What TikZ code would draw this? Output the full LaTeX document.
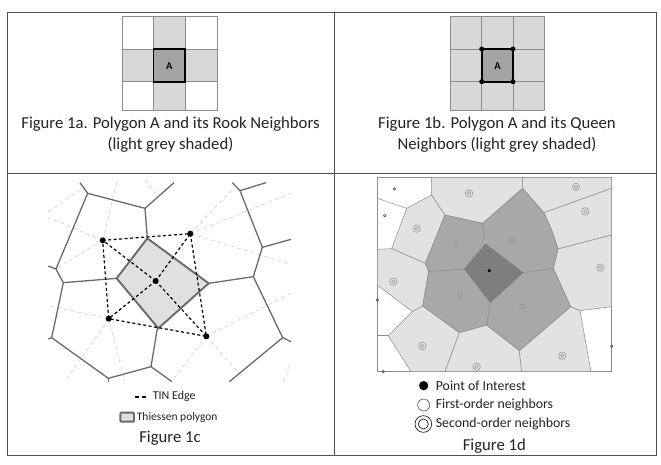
\documentclass[tikz,border=0pt]{standalone}
\usepackage{fontspec}
\setmainfont{Carlito}
\definecolor{tablegrey}{HTML}{505050}
\definecolor{gridgrey}{HTML}{8C8C8C}
\definecolor{lightcell}{HTML}{D8D8D8}
\definecolor{midcell}{HTML}{A4A4A4}
\definecolor{edgegrey}{HTML}{6A6A6A}
\definecolor{dashgrey}{HTML}{CCCCCC}
\definecolor{thiessen}{HTML}{E0E0E0}
\definecolor{secondcell}{HTML}{E2E2E2}
\definecolor{firstcell}{HTML}{A8A8A8}
\definecolor{centercell}{HTML}{7E7E7E}
\definecolor{celledge}{HTML}{8C8C8C}
\definecolor{labeltext}{HTML}{222222}
\tikzset{
	tableline/.style={draw=tablegrey, line width=0.9pt},
	gridline/.style={draw=gridgrey, line width=0.8pt},
	caption/.style={inner sep=0pt, font=\fontsize{16.7}{20}\selectfont, text=labeltext},
	legendtext/.style={inner sep=0pt, anchor=west, font=\fontsize{13.8}{16}\selectfont, text=labeltext},
	smalllegend/.style={legendtext, font=\fontsize{12}{14}\selectfont},
	cornerdot/.style={circle, fill=black, inner sep=0pt, minimum size=5pt},
	tindot/.style={circle, fill=black, inner sep=0pt, minimum size=6pt},
	tinedge/.style={draw=black, line width=1.2pt, dash pattern=on 3pt off 2.5pt},
	voronoi/.style={draw=edgegrey, line width=1.3pt},
	delaunay/.style={draw=dashgrey, line width=0.6pt, dash pattern=on 4pt off 3pt},
	secondpoly/.style={fill=secondcell, draw=celledge, line width=0.5pt},
	firstpoly/.style={fill=firstcell, draw=celledge, line width=0.5pt},
	ringmark/.style={circle, draw=gridgrey, line width=0.5pt, inner sep=0pt, minimum size=5pt},
	smallmark/.style={circle, draw=tablegrey, line width=0.6pt, inner sep=0pt, minimum size=2.6pt},
	outermark/.style={circle, draw=gridgrey, line width=0.5pt, inner sep=0pt, minimum size=7.5pt},
	innermark/.style={circle, draw=gridgrey, line width=0.5pt, inner sep=0pt, minimum size=3.6pt}
}
\begin{document}
\begin{tikzpicture}[x=1pt, y=-1pt]
	\useasboundingbox (0, 0) rectangle (661, 464);
	\draw[tableline] (7.5, 12.7) rectangle (656, 455);
	\draw[tableline] (7.5, 173.7) -- (656, 173.7);
	\draw[tableline] (334, 12.7) -- (334, 455);
	\fill[lightcell] (153.5, 16) rectangle (185, 110.5);
	\fill[lightcell] (122.5, 49) rectangle (217.5, 81.7);
	\fill[midcell] (153.5, 49) rectangle (185, 81.7);
	\draw[gridline] (122.5, 16) rectangle (217.5, 110.5);
	\draw[gridline] (153.5, 16) -- (153.5, 110.5);
	\draw[gridline] (185, 16) -- (185, 110.5);
	\draw[gridline] (122.5, 49) -- (217.5, 49);
	\draw[gridline] (122.5, 81.7) -- (217.5, 81.7);
	\draw[line width=1.6pt] (153.5, 49) rectangle (185, 81.7);
	\node[inner sep=0pt, font=\fontsize{10.5}{12}\selectfont\bfseries](A1) at (169.3, 66){A};
	\node[caption](C1) at (170.5, 124){Figure 1a. Polygon A and its Rook Neighbors};
	\node[caption](C2) at (170.5, 145){(light grey shaded)};
	\fill[lightcell] (450, 16) rectangle (544.5, 110.5);
	\fill[midcell] (481.7, 49) rectangle (513, 81.7);
	\draw[gridline] (450, 16) rectangle (544.5, 110.5);
	\draw[gridline] (481.7, 16) -- (481.7, 110.5);
	\draw[gridline] (513, 16) -- (513, 110.5);
	\draw[gridline] (450, 49) -- (544.5, 49);
	\draw[gridline] (450, 81.7) -- (544.5, 81.7);
	\node[cornerdot](Q1) at (481.7, 49){};
	\node[cornerdot](Q2) at (513, 49){};
	\node[cornerdot](Q3) at (513, 81.7){};
	\node[cornerdot](Q4) at (481.7, 81.7){};
	\draw[line width=1.6pt] (Q1.center) -- (Q2.center) -- (Q3.center) -- (Q4.center) -- cycle;
	\node[inner sep=0pt, font=\fontsize{10.5}{12}\selectfont\bfseries](A2) at (497.5, 66){A};
	\node[caption](C3) at (497, 124){Figure 1b. Polygon A and its Queen};
	\node[caption](C4) at (497, 145){Neighbors (light grey shaded)};
	\begin{scope}[shift={(0, 170)}, scale=1/3]
		\draw[delaunay] (308, 211) -- (145, 142);
		\draw[delaunay] (308, 211) -- (168, 297);
		\draw[delaunay] (308, 211) -- (352, 30);
		\draw[delaunay] (145, 125) -- (255, 50);
		\draw[delaunay] (435, 30) -- (467, 70);
		\draw[delaunay] (571, 191) -- (873, 283);
		\draw[delaunay] (571, 191) -- (873, 70);
		\draw[delaunay] (571, 191) -- (700, 55);
		\draw[delaunay] (619, 499) -- (873, 370);
		\draw[delaunay] (619, 499) -- (730, 625);
		\draw[delaunay] (619, 499) -- (520, 628);
		\draw[delaunay] (326, 446) -- (150, 408);
		\draw[delaunay] (326, 446) -- (195, 635);
		\draw[delaunay] (326, 446) -- (375, 635);
		\draw[delaunay] (850, 635) -- (873, 575);
		\draw[voronoi] (240, 38) -- (263, 70) -- (435, 115) -- (522, 38);
		\draw[voronoi] (435, 115) -- (442, 205);
		\draw[voronoi] (263, 70) -- (168, 297) -- (145, 288);
		\draw[voronoi] (168, 297) -- (190, 338) -- (350, 325);
		\draw[voronoi] (190, 338) -- (155, 503) -- (145, 507);
		\draw[voronoi] (155, 503) -- (325, 625) -- (453, 590) -- (516, 635);
		\draw[voronoi] (325, 625) -- (325, 635);
		\draw[voronoi] (453, 590) -- (472, 475);
		\draw[voronoi] (626, 340) -- (760, 320) -- (787, 232) -- (873, 208);
		\draw[voronoi] (787, 232) -- (720, 62) -- (697, 38);
		\draw[voronoi] (720, 62) -- (798, 38);
		\draw[voronoi] (760, 320) -- (848, 503) -- (873, 515);
		\draw[voronoi] (848, 503) -- (688, 635);
		\draw[fill=thiessen, draw=edgegrey, line width=1.9pt] (442, 205) -- (626, 340) -- (475, 475) -- (350, 325) -- cycle;
		\node[tindot](T1) at (308, 211){};
		\node[tindot](T2) at (571, 191){};
		\node[tindot](T3) at (619, 499){};
		\node[tindot](T4) at (326, 446){};
		\node[tindot](T5) at (467, 333){};
		\draw[tinedge] (T1.center) -- (T2.center) -- (T3.center) -- (T4.center) -- (T1.center);
		\draw[tinedge] (T5.center) -- (T1.center);
		\draw[tinedge] (T5.center) -- (T2.center);
		\draw[tinedge] (T5.center) -- (T3.center);
		\draw[tinedge] (T5.center) -- (T4.center);
		\draw[line width=2pt, dash pattern=on 4pt off 3.5pt] (405, 680) -- (446, 680);
		\node[smalllegend](L1) at (458, 680){TIN Edge};
		\draw[fill=thiessen, draw=edgegrey, line width=1.9pt, rounded corners=1pt] (361, 728) rectangle (402, 755);
		\node[smalllegend, font=\fontsize{11.5}{14}\selectfont](L2) at (410, 742){Thiessen polygon};
		\node[caption](C5) at (510, 805){Figure 1c};
	\end{scope}
	\begin{scope}[shift={(330, 170)}, scale=1/3]
		\draw[draw=celledge, line width=0.5pt] (142, 22) rectangle (845, 605);
		\draw[draw=celledge, line width=0.5pt] (142, 85) -- (230, 115);
		\draw[draw=celledge, line width=0.5pt] (142, 497) -- (175, 497);
		\draw[secondpoly] (230, 115) -- (305, 75) -- (345, 135) -- (286, 280) -- (185, 236) -- cycle;
		\draw[secondpoly] (305, 22) -- (578, 22) -- (578, 55) -- (458, 160) -- (345, 135) -- (305, 75) -- cycle;
		\draw[secondpoly] (578, 22) -- (845, 22) -- (845, 55) -- (642, 128) -- (578, 55) -- cycle;
		\draw[secondpoly] (642, 128) -- (845, 55) -- (845, 195) -- (684, 237) -- (665, 180) -- cycle;
		\draw[secondpoly] (684, 237) -- (845, 195) -- (845, 410) -- (750, 422) -- (722, 410) -- (670, 295) -- cycle;
		\draw[secondpoly] (142, 238) -- (185, 236) -- (286, 280) -- (296, 305) -- (278, 408) -- (247, 425) -- (142, 345) -- cycle;
		\draw[secondpoly] (247, 425) -- (278, 408) -- (388, 488) -- (345, 605) -- (243, 605) -- (175, 497) -- cycle;
		\draw[secondpoly] (388, 488) -- (470, 465) -- (568, 542) -- (575, 605) -- (345, 605) -- cycle;
		\draw[secondpoly] (568, 542) -- (722, 410) -- (750, 422) -- (783, 605) -- (575, 605) -- cycle;
		\draw[firstpoly] (345, 135) -- (458, 160) -- (462, 220) -- (403, 298) -- (296, 305) -- (286, 280) -- cycle;
		\draw[firstpoly] (578, 55) -- (642, 130) -- (665, 180) -- (684, 237) -- (670, 295) -- (580, 308) -- (465, 220) -- (458, 160) -- cycle;
		\draw[firstpoly] (670, 295) -- (722, 410) -- (568, 542) -- (470, 465) -- (481, 398) -- (580, 308) -- cycle;
		\draw[firstpoly] (296, 305) -- (403, 298) -- (481, 398) -- (470, 465) -- (388, 488) -- (278, 408) -- cycle;
		\fill[centercell] (465, 220) -- (580, 308) -- (481, 398) -- (403, 298) -- cycle;
		\node[circle, fill=black, inner sep=0pt, minimum size=3.6pt](P0) at (478, 302){};
		\foreach \px/\py in {193/57, 164/137, 142/390, 845/529, 160/605}
			\node[smallmark] at (\px, \py){};
		\foreach \px/\py in {377/225, 546/211, 388/376, 577/410}
			\node[ringmark] at (\px, \py){};
		\foreach \px/\py in {417/70, 738/51, 766/124, 260/176, 811/293, 190/335, 277/528, 697/557, 440/590} {
			\node[outermark] at (\px, \py){};
			\node[innermark] at (\px, \py){};
		}
		\node[circle, fill=black, inner sep=0pt, minimum size=9.3pt](M1) at (281, 647){};
		\node[circle, draw=tablegrey, line width=0.6pt, inner sep=0pt, minimum size=12pt](M2) at (281, 705){};
		\node[circle, draw=labeltext, line width=0.7pt, inner sep=0pt, minimum size=16.7pt](M3) at (280, 762){};
		\node[circle, draw=labeltext, line width=0.7pt, inner sep=0pt, minimum size=10pt](M4) at (280, 762){};
		\node[legendtext](L3) at (317, 647){Point of Interest};
		\node[legendtext](L4) at (317, 705){First-order neighbors};
		\node[legendtext](L5) at (317, 762){Second-order neighbors};
		\node[caption](C6) at (493, 828){Figure 1d};
	\end{scope}
\end{tikzpicture}
\end{document}
